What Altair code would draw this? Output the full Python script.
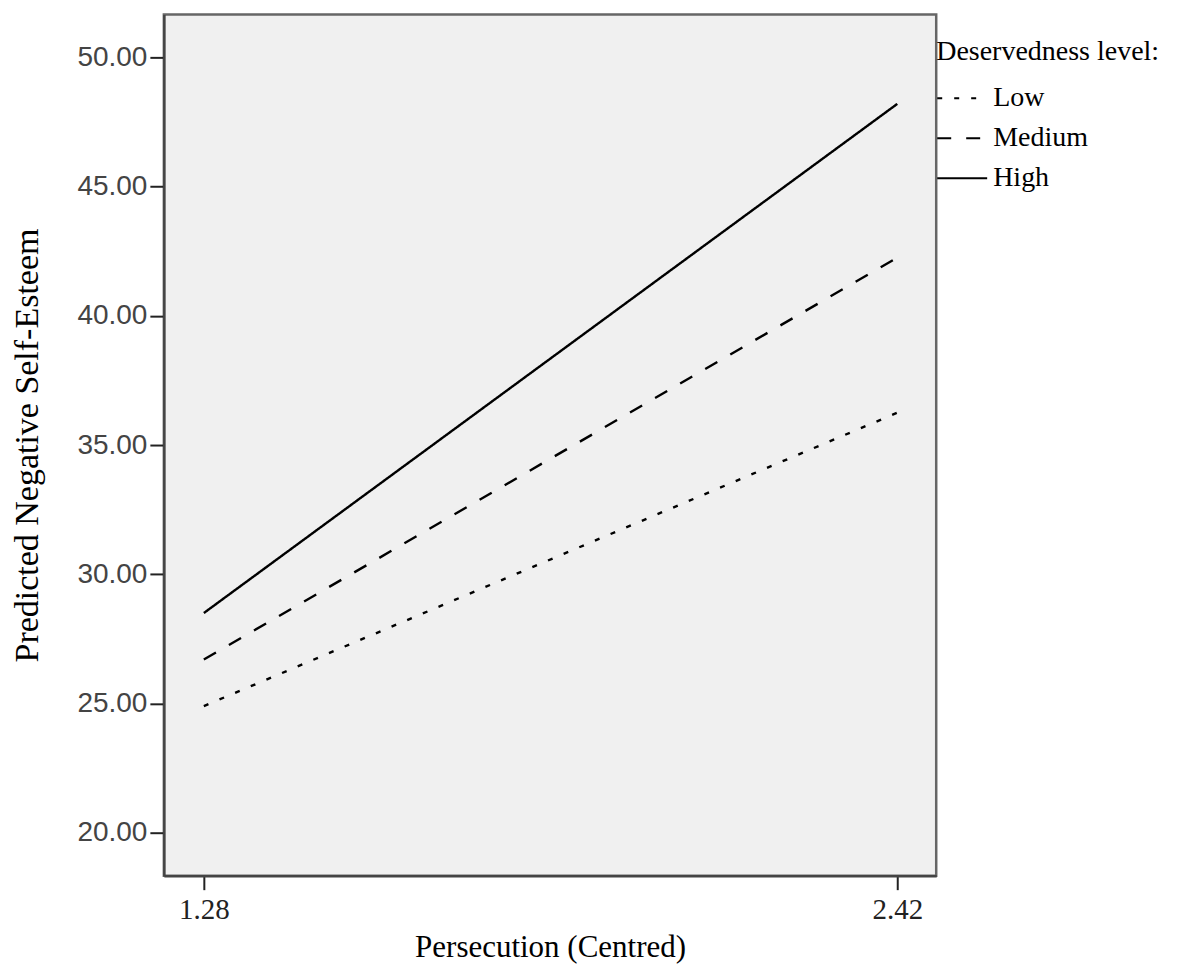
import altair as alt
import pandas as pd

levels = ["Low", "Medium", "High"]
x_values = [1.28, 2.42]
low_vals = [24.9, 36.25]
medium_vals = [26.7, 42.25]
high_vals = [28.5, 48.2]
y_ticks = [20, 25, 30, 35, 40, 45, 50]

rows = []
for lvl, vals in zip(levels, [low_vals, medium_vals, high_vals]):
    for xv, yv in zip(x_values, vals):
        rows.append({"Persecution": xv, "NSE": yv, "Level": lvl})
df = pd.DataFrame(rows)

chart = alt.Chart(df).mark_line(color="black", strokeWidth=2.4, strokeCap="butt").encode(
    x=alt.X("Persecution:Q",
            scale=alt.Scale(domain=[1.2143, 2.484], nice=False, zero=False),
            axis=alt.Axis(values=x_values, format=".2f", title="Persecution (Centred)",
                          grid=False, tickSize=14, tickWidth=2, tickColor="#222",
                          labelPadding=6, labelFont="Liberation Serif", labelFontSize=29,
                          labelColor="#222", titleFont="Liberation Serif", titleFontSize=31,
                          titleFontWeight="normal", titleColor="#000", titlePadding=8,
                          domainColor="#444", domainWidth=2.5)),
    y=alt.Y("NSE:Q",
            scale=alt.Scale(domain=[18.338, 51.662], nice=False, zero=False),
            axis=alt.Axis(values=y_ticks, format=".2f", title="Predicted Negative Self-Esteem",
                          grid=False, tickSize=14, tickWidth=2, tickColor="#222",
                          labelPadding=3, labelFont="Liberation Sans", labelFontSize=28,
                          labelColor="#444", titleFont="Liberation Serif", titleFontSize=34,
                          titleFontWeight="normal", titleColor="#000", titlePadding=32,
                          domainColor="#444", domainWidth=2.5)),
    strokeDash=alt.StrokeDash("Level:N",
                              scale=alt.Scale(domain=levels, range=[[5, 12], [14, 15], [1, 0]]),
                              legend=alt.Legend(title="Deservedness level:",
                                                orient="none", legendX=773, legendY=24,
                                                symbolType="stroke", symbolSize=2500,
                                                symbolStrokeWidth=2, symbolStrokeColor="black",
                                                labelFont="Liberation Serif", labelFontSize=28,
                                                labelColor="#000", labelOffset=5,
                                                titleFont="Liberation Serif", titleFontSize=28,
                                                titleFontWeight="normal", titleColor="#000",
                                                titlePadding=6, rowPadding=-4.5,
                                                titleLimit=400)),
).properties(
    width=773,
    height=862,
    autosize=alt.AutoSizeParams(type="none"),
    padding={"left": 156, "top": 6, "right": 250, "bottom": 96},
).configure(
    background="white"
).configure_view(
    fill="#f0f0f0", stroke="#666", strokeWidth=2.5
)

chart.save("out.html", embed_options={"renderer": "svg", "actions": False})
